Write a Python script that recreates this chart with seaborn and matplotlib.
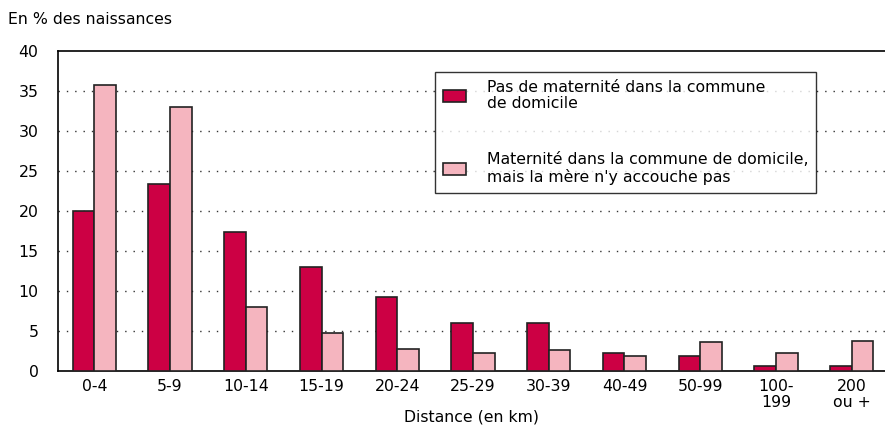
import matplotlib
matplotlib.use("Agg")
import matplotlib.pyplot as plt
import seaborn as sns
import pandas as pd
import numpy as np

categories = ["0-4", "5-9", "10-14", "15-19", "20-24", "25-29", "30-39",
              "40-49", "50-99", "100-\n199", "200\nou +"]
series_names = ["Pas de maternité dans la commune\nde domicile",
                "Maternité dans la commune de domicile,\nmais la mère n'y accouche pas"]
pas_maternite = [20.0, 23.4, 17.4, 13.0, 9.2, 6.0, 6.0, 2.3, 1.9, 0.6, 0.6]
maternite = [35.7, 33.0, 8.0, 4.7, 2.7, 2.3, 2.6, 1.9, 3.6, 2.2, 3.7]
yticks = [0, 5, 10, 15, 20, 25, 30, 35, 40]

df = pd.DataFrame({
    "cat": categories * 2,
    "val": pas_maternite + maternite,
    "serie": [series_names[0]] * len(categories) + [series_names[1]] * len(categories),
})

sns.set_style("white")
plt.rcParams["font.family"] = ["DejaVu Sans"]
plt.rcParams["text.color"] = "black"
plt.rcParams["xtick.color"] = "black"
plt.rcParams["ytick.color"] = "black"
plt.rcParams["axes.labelcolor"] = "black"

fs = 11.3

fig = plt.figure(figsize=(8.85, 4.28), dpi=100)
ax = fig.add_axes([0.0655, 0.1332, 0.9345, 0.7477])

colors = ["#CC0044", "#F5B5BF"]
sns.barplot(data=df, x="cat", y="val", hue="serie", palette=colors,
            width=0.57, gap=0, edgecolor="#222222", linewidth=1.2,
            saturation=1, ax=ax, zorder=3)

ax.set_ylim(0, 40)
ax.set_xlim(-0.48, 10.44)
ax.set_yticks(yticks)
ax.set_yticklabels([str(t) for t in yticks], fontsize=fs)
for t in yticks[1:-1]:
    ax.axhline(t, color="#333333", linestyle=(0, (1, 5)), linewidth=1, zorder=1)

ax.set_xticks(range(len(categories)))
ax.set_xticklabels(categories, fontsize=fs, linespacing=1.05)
ax.set_xticks(np.arange(0.5, len(categories) - 1, 1), minor=True)
ax.tick_params(axis="x", which="major", length=0, pad=6)
ax.tick_params(axis="x", which="minor", direction="in", length=5, width=1.2, color="black")
ax.tick_params(axis="y", which="major", direction="in", length=5, width=1, color="black", pad=14)

for s in ["left", "bottom", "top"]:
    ax.spines[s].set_visible(True)
    ax.spines[s].set_color("black")
    ax.spines[s].set_linewidth(1.2)
ax.spines["right"].set_visible(False)

ax.set_xlabel("Distance (en km)", fontsize=fs, labelpad=0)
ax.set_ylabel("")
fig.text(8 / 885, 1 - 20 / 428, "En % des naissances", fontsize=fs, va="center", ha="left")

leg = ax.legend(loc="upper left", bbox_to_anchor=(0.456, 0.935), fontsize=fs,
                frameon=True, fancybox=False, edgecolor="black", labelspacing=2.6,
                handlelength=1.5, handleheight=0.8, borderpad=0.5, handletextpad=1.3,
                borderaxespad=0)
leg.get_frame().set_linewidth(1)
for t in leg.get_texts():
    t.set_color("black")
    t.set_linespacing(1.15)

fig.savefig("out.png", dpi=100)
